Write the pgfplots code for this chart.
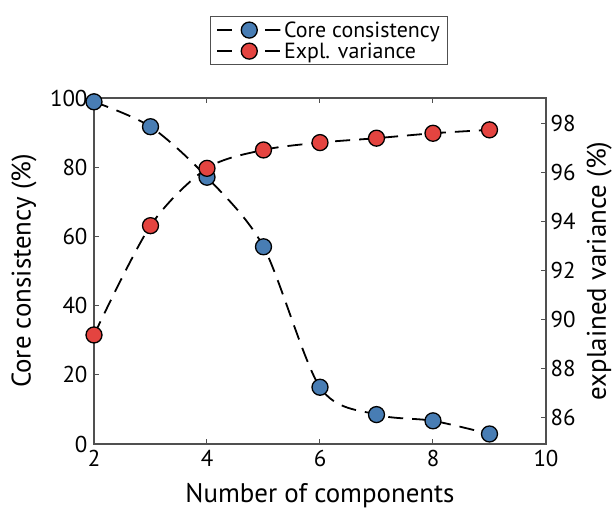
\documentclass[border=0pt]{standalone}
\usepackage{fontspec}
\setmainfont{PT Sans}
\usepackage{pgfplots}
\pgfplotsset{compat=1.18}
\definecolor{cblue}{RGB}{72,125,180}
\definecolor{cred}{RGB}{228,68,64}
\definecolor{axgray}{RGB}{80,80,80}
\begin{document}
\begin{tikzpicture}
\pgfplotsset{
 every axis/.append style={
  scale only axis, width=452bp, height=346bp,
  xmin=2, xmax=10,
  tick align=inside,
  major tick length=5bp,
  axis line style={axgray, line width=1.2bp},
  tick style={axgray, line width=1bp},
  tick label style={font=\fontsize{23}{26}\selectfont, black},
  label style={font=\fontsize{27}{32}\selectfont},
  /pgf/number format/assume math mode=true,
 },
}
\begin{axis}[
 ymin=0, ymax=100, ytick={0,20,...,100}, xtick={2,4,...,10},
 xtick pos=both, ytick pos=left,
 yticklabel style={xshift=-3bp},
 xticklabel style={yshift=-3bp},
 xlabel={Number of components}, ylabel={Core consistency (\%)},
 xlabel style={at={(axis description cs:0.5,-0.148)}, anchor=center},
 ylabel style={at={(axis description cs:-0.155,0.5)}, anchor=center},
 legend style={at={(axis description cs:0.52,1.095)}, anchor=south,
   draw=axgray, line width=1bp, font=\fontsize{22}{25}\selectfont,
   inner xsep=6bp, inner ysep=3bp, row sep=0bp},
 legend cell align=left,
 legend image code/.code={\draw[mark repeat=2,mark phase=2,#1, line width=1.8bp, dash pattern=on 15bp off 9bp] plot coordinates {(0bp,0bp)(32bp,0bp)(64bp,0bp)};},
]
\addplot[black, line width=1.8bp, dash pattern=on 15bp off 9bp, smooth,
  mark=*, mark size=8bp, mark options={solid, fill=cblue, draw=black, line width=1.3bp}]
  coordinates {(2,98.9)(3,91.7)(4,77.1)(5,57.0)(6,16.4)(7,8.5)(8,6.7)(9,2.9)};
\addlegendentry{Core consistency}
\addlegendimage{black, line width=1.8bp, dash pattern=on 15bp off 9bp,
  mark=*, mark size=8bp, mark options={solid, fill=cred, draw=black, line width=1.3bp}}
\addlegendentry{Expl. variance}
\end{axis}
\begin{axis}[
 ymin=84.91, ymax=99.03, ytick={86,88,...,98},
 axis y line*=right, hide x axis,
 yticklabel style={xshift=1bp},
 ylabel={explained variance (\%)},
 ylabel style={at={(axis description cs:1.118,0.5)}, anchor=center},
]
\addplot[black, line width=1.8bp, dash pattern=on 15bp off 9bp, smooth,
  mark=*, mark size=8bp, mark options={solid, fill=cred, draw=black, line width=1.3bp}]
  coordinates {(2,89.36)(3,93.82)(4,96.16)(5,96.91)(6,97.21)(7,97.39)(8,97.59)(9,97.73)};
\end{axis}
\pgfresetboundingbox
\path[use as bounding box] (-94bp,-64bp) rectangle (520bp,444bp);
\end{tikzpicture}
\end{document}
